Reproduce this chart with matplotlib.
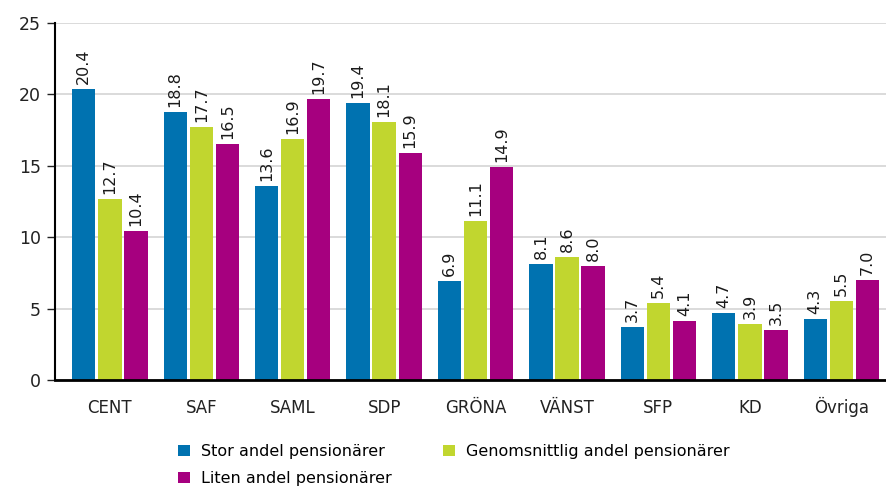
import numpy as np
import matplotlib.pyplot as plt

# parties and shares (%) for the three area types
parties = ['CENT', 'SAF', 'SAML', 'SDP', 'GRÖNA', 'VÄNST', 'SFP', 'KD', 'Övriga']
stor = [20.4, 18.8, 13.6, 19.4, 6.9, 8.1, 3.7, 4.7, 4.3]
genomsnitt = [12.7, 17.7, 16.9, 18.1, 11.1, 8.6, 5.4, 3.9, 5.5]
liten = [10.4, 16.5, 19.7, 15.9, 14.9, 8.0, 4.1, 3.5, 7.0]
series_names = ['Stor andel pensionärer', 'Genomsnittlig andel pensionärer',
                'Liten andel pensionärer']
colors = ['#0072b0', '#c1d62f', '#a6007f']

fig = plt.figure(figsize=(8.87, 4.9), dpi=100)
ax = fig.add_axes([55/887, 1 - 380/490, 832/887, 357/490])

x = np.arange(len(parties))
w = 0.255
bars = []
for i, (vals, c, name) in enumerate(zip([stor, genomsnitt, liten], colors, series_names)):
    b = ax.bar(x + (i - 1) * 0.285, vals, w, color=c, label=name, zorder=3)
    bars.append(b)
    for xi, v in zip(x + (i - 1) * 0.285, vals):
        ax.text(xi, v + 0.35, f'{v:.1f}', rotation=90, ha='center', va='bottom',
                fontsize=11.5, color='#1a1a1a')

ax.set_xlim(-0.6, 8.5)
ax.set_ylim(0, 25)
ax.set_yticks([0, 5, 10, 15, 20, 25])
ax.set_xticks(x)
ax.set_xticklabels(parties)
ax.tick_params(axis='y', length=6, width=1, labelsize=12.5, pad=4, colors='#222222')
ax.tick_params(axis='x', length=0, labelsize=12, pad=24, colors='#222222')
for lbl in ax.get_xticklabels():
    lbl.set_va('baseline')
ax.yaxis.grid(True, color='#d4d4d4', linewidth=1.2, zorder=0)
for s in ['top', 'right']:
    ax.spines[s].set_visible(False)
ax.spines['left'].set_linewidth(1.5)
ax.spines['bottom'].set_linewidth(2)
ax.spines['bottom'].set_zorder(4)

# row-major order like the original: Stor, Genomsnittlig / Liten
order = [0, 2, 1]
fig.legend(handles=[bars[k] for k in order], labels=[series_names[k] for k in order],
           ncol=2, loc='upper left',
           bbox_to_anchor=(178/887, 1 - 444/490), frameon=False, fontsize=11.5,
           handlelength=0.75, handleheight=0.75, handletextpad=0.7,
           columnspacing=3.2, labelspacing=0.75, borderpad=0, borderaxespad=0)

fig.savefig('out.png', dpi=100)
